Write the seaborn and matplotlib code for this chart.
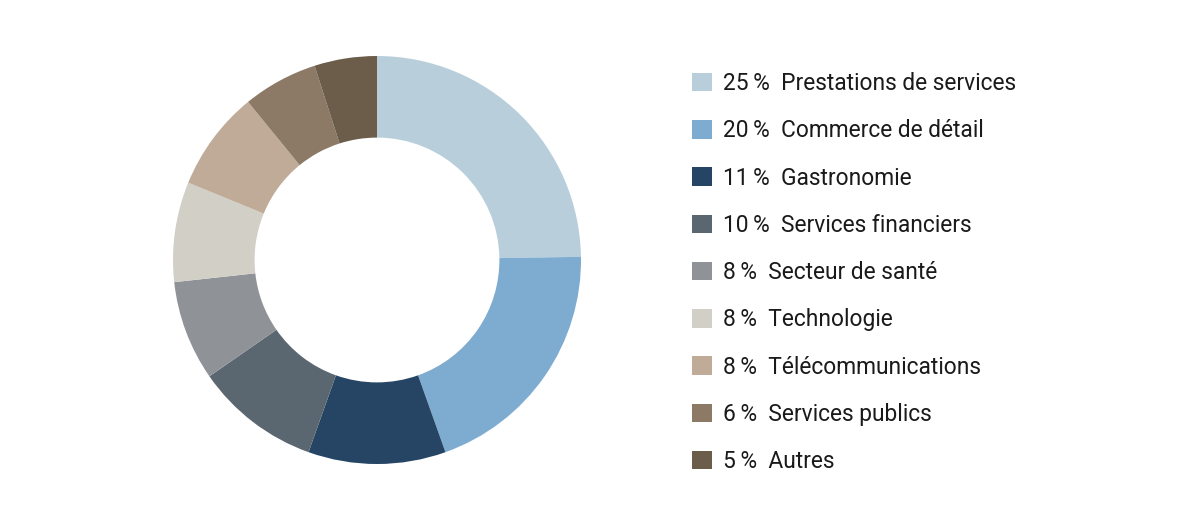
"""
Répartition par secteur - graphique en anneau
"""

import matplotlib

matplotlib.use("Agg")
import matplotlib.pyplot as plt
import seaborn as sns

# Données
secteurs = [
    "Prestations de services",
    "Commerce de détail",
    "Gastronomie",
    "Services financiers",
    "Secteur de santé",
    "Technologie",
    "Télécommunications",
    "Services publics",
    "Autres",
]
parts = [25, 20, 11, 10, 8, 8, 8, 6, 5]
couleurs = [
    "#b8cfdb",
    "#7eabd0",
    "#264565",
    "#5b6770",
    "#8f9398",
    "#d1cfc6",
    "#bfab98",
    "#8c7a67",
    "#6b5d4a",
]

sns.set_theme(style="white")
plt.rcParams["font.family"] = ["Roboto", "DejaVu Sans"]

fig = plt.figure(figsize=(12, 5.2), dpi=100)
W, H = 1200, 520

# Anneau : centre (377, 260), rayon 204 px
cx, cy, r = 377, 260, 204
ax = fig.add_axes([(cx - r) / W, (H - cy - r) / H, 2 * r / W, 2 * r / H])
wedges, _ = ax.pie(
    parts,
    colors=couleurs,
    startangle=90,
    counterclock=False,
    radius=1,
    wedgeprops=dict(width=0.4, linewidth=0),
)
ax.set_xlim(-1, 1)
ax.set_ylim(-1, 1)
ax.axis("off")

# Légende
etiquettes = [f"{p}\u2009%  {s}" for p, s in zip(parts, secteurs)]
fig.legend(
    wedges,
    etiquettes,
    loc="upper left",
    bbox_to_anchor=(692 / W, 1 - 72 / H),
    frameon=False,
    fontsize=16.4,
    handlelength=0.87,
    handleheight=0.87,
    handletextpad=0.5,
    labelspacing=1.065,
    borderaxespad=0,
    borderpad=0,
    labelcolor="#1a1a1a",
)

fig.savefig("out.png", dpi=100, facecolor="white")
